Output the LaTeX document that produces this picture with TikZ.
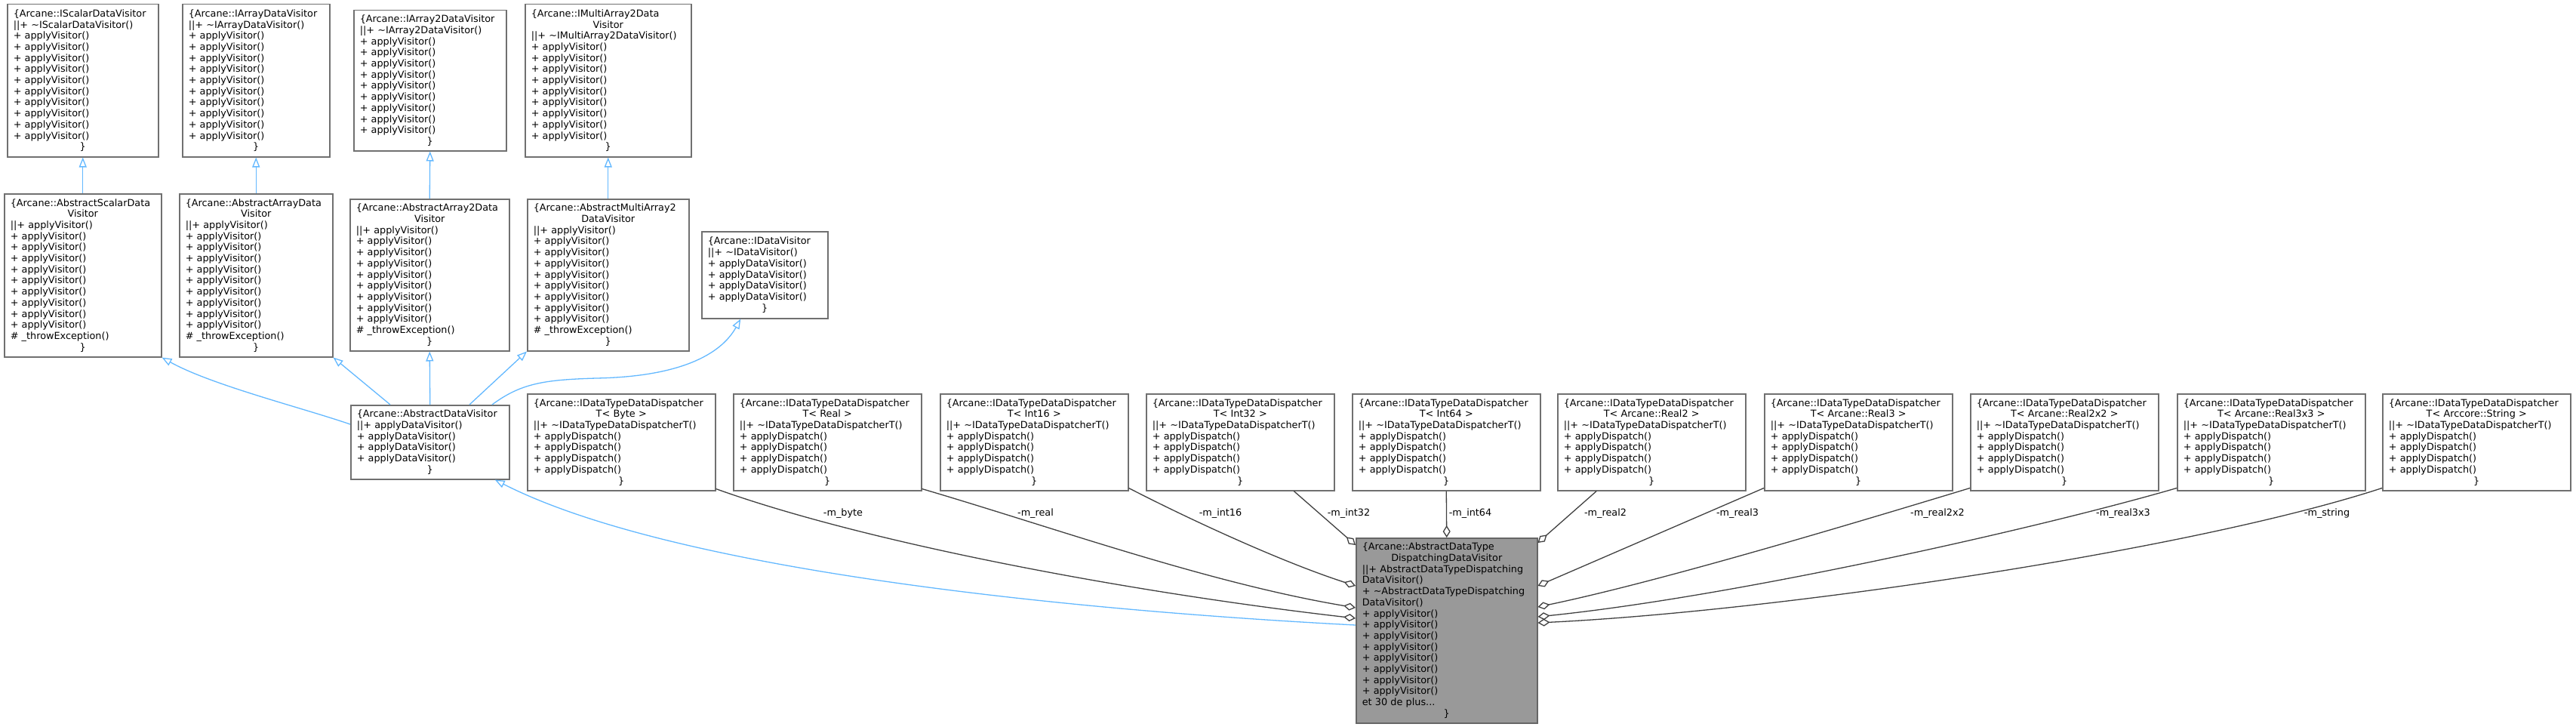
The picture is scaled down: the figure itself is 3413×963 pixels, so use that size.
\documentclass[tikz,border=0pt]{standalone}
\usepackage{fontspec}
\setmainfont{DejaVu Sans}
\usetikzlibrary{arrows.meta,calc}
\definecolor{nodeborder}{HTML}{707070}
\definecolor{mainfill}{HTML}{999999}
\definecolor{mainborder}{HTML}{666666}
\definecolor{inhblue}{HTML}{63B8FF}
\definecolor{aggr}{HTML}{404040}
\newcommand\cl[1]{\makebox[\hsize]{#1}}
\newcommand\av{+ applyVisitor()}
\newcommand\adv{+ applyDataVisitor()}
\newcommand\apd{+ applyDispatch()}
\newcommand\dispnode[3]{\node[cls, minimum width=249pt, minimum height=128pt, text width=233pt] (#1) at (#2,521) {\{Arcane::IDataTypeDataDispatcher\\ \cl{T< #3 >}\\ ||+ \textasciitilde IDataTypeDataDispatcherT()\\ \apd\\ \apd\\ \apd\\ \apd\\ \cl{\}}};}
\begin{document}
\begin{tikzpicture}[x=1pt,y=-1pt,
  every node/.style={font=\fontsize{12.8}{14.7}\selectfont},
  cls/.style={draw=nodeborder, fill=white, line width=1.5pt, inner xsep=8pt, inner ysep=0pt, anchor=north west, align=left},
  mainc/.style={cls, draw=mainborder, fill=mainfill},
  inh/.style={draw=inhblue, line width=1.3pt, -{Triangle[open, length=13pt, width=10pt]}},
  agg/.style={draw=aggr, line width=1.3pt, -{Diamond[open, length=16pt, width=10pt]}},
  lbl/.style={inner sep=0pt, anchor=center}
]
\useasboundingbox (0,0) rectangle (3413,963);

% top row
\node[cls, minimum width=200pt, minimum height=202pt, text width=184pt] (iscalar) at (9,5)
 {\{Arcane::IScalarDataVisitor\\ ||+ \textasciitilde IScalarDataVisitor()\\ \av\\ \av\\ \av\\ \av\\ \av\\ \av\\ \av\\ \av\\ \av\\ \av\\ \cl{\}}};
\node[cls, minimum width=195pt, minimum height=202pt, text width=179pt] (iarray) at (241,5)
 {\{Arcane::IArrayDataVisitor\\ ||+ \textasciitilde IArrayDataVisitor()\\ \av\\ \av\\ \av\\ \av\\ \av\\ \av\\ \av\\ \av\\ \av\\ \av\\ \cl{\}}};
\node[cls, minimum width=202pt, minimum height=186pt, text width=186pt] (iarray2) at (468,13)
 {\{Arcane::IArray2DataVisitor\\ ||+ \textasciitilde IArray2DataVisitor()\\ \av\\ \av\\ \av\\ \av\\ \av\\ \av\\ \av\\ \av\\ \av\\ \cl{\}}};
\node[cls, minimum width=220pt, minimum height=202pt, text width=204pt] (imulti) at (695,5)
 {\{Arcane::IMultiArray2Data\\ \cl{Visitor}\\ ||+ \textasciitilde IMultiArray2DataVisitor()\\ \av\\ \av\\ \av\\ \av\\ \av\\ \av\\ \av\\ \av\\ \av\\ \cl{\}}};

% second row
\node[cls, minimum width=208pt, minimum height=216pt, text width=192pt] (ascalar) at (5,256)
 {\{Arcane::AbstractScalarData\\ \cl{Visitor}\\ ||+ applyVisitor()\\ \av\\ \av\\ \av\\ \av\\ \av\\ \av\\ \av\\ \av\\ \av\\ \# \_throwException()\\ \cl{\}}};
\node[cls, minimum width=203pt, minimum height=216pt, text width=187pt] (aarray) at (237,256)
 {\{Arcane::AbstractArrayData\\ \cl{Visitor}\\ ||+ applyVisitor()\\ \av\\ \av\\ \av\\ \av\\ \av\\ \av\\ \av\\ \av\\ \av\\ \# \_throwException()\\ \cl{\}}};
\node[cls, minimum width=211pt, minimum height=201pt, text width=195pt] (aarray2) at (463,263)
 {\{Arcane::AbstractArray2Data\\ \cl{Visitor}\\ ||+ applyVisitor()\\ \av\\ \av\\ \av\\ \av\\ \av\\ \av\\ \av\\ \av\\ \# \_throwException()\\ \cl{\}}};
\node[cls, minimum width=214pt, minimum height=201pt, text width=198pt] (amulti) at (698,263)
 {\{Arcane::AbstractMultiArray2\\ \cl{DataVisitor}\\ ||+ applyVisitor()\\ \av\\ \av\\ \av\\ \av\\ \av\\ \av\\ \av\\ \av\\ \# \_throwException()\\ \cl{\}}};
\node[cls, minimum width=167pt, minimum height=115pt, text width=151pt] (idv) at (929,306)
 {\{Arcane::IDataVisitor\\ ||+ \textasciitilde IDataVisitor()\\ \adv\\ \adv\\ \adv\\ \adv\\ \cl{\}}};

% third row
\node[cls, minimum width=210pt, minimum height=98pt, text width=194pt] (adv) at (464,536)
 {\{Arcane::AbstractDataVisitor\\ ||+ applyDataVisitor()\\ \adv\\ \adv\\ \adv\\ \cl{\}}};
\dispnode{dbyte}{698}{Byte}
\dispnode{dreal}{971}{Real}
\dispnode{dint16}{1245}{Int16}
\dispnode{dint32}{1518}{Int32}
\dispnode{dint64}{1791}{Int64}
\dispnode{dreal2}{2063}{Arcane::Real2}
\dispnode{dreal3}{2337}{Arcane::Real3}
\dispnode{dreal2x2}{2610}{Arcane::Real2x2}
\dispnode{dreal3x3}{2884}{Arcane::Real3x3}
\dispnode{dstring}{3156}{Arccore::String}

% main node
\node[mainc, minimum width=240pt, minimum height=245pt, text width=224pt] (main) at (1796,712)
 {\{Arcane::AbstractDataType\\ \cl{DispatchingDataVisitor}\\ ||+ AbstractDataTypeDispatching\\ DataVisitor()\\ + \textasciitilde AbstractDataTypeDispatching\\ DataVisitor()\\ \av\\ \av\\ \av\\ \av\\ \av\\ \av\\ \av\\ \av\\ et 30 de plus...\\ \cl{\}}};

% inheritance
\draw[inh] (ascalar.north) -- (iscalar.south);
\draw[inh] (aarray.north) -- (iarray.south);
\draw[inh] (aarray2.north) -- (iarray2.south);
\draw[inh] (amulti.north) -- (imulti.south);
\draw[inh] ([yshift=-26pt]adv.north west) .. controls (400,540) and (280,510) .. (ascalar.south east);
\draw[inh] ([xshift=53pt]adv.north west) -- (aarray.south east);
\draw[inh] (adv.north) -- (aarray2.south);
\draw[inh] ([xshift=158pt]adv.north west) -- (amulti.south west);
\draw[inh] ([xshift=188pt]adv.north west) .. controls (690,508) and (720,503) .. (790,501) .. controls (900,499) and (955,470) .. ([xshift=-32pt]idv.south);
\draw[inh] ([yshift=-116pt]main.north west) .. controls (1450,810) and (900,760) .. ([xshift=86pt]adv.south);

% aggregation
\draw[agg] ([yshift=3pt]dbyte.south east) .. controls (1150,720) and (1500,785) .. ([yshift=-107pt]main.north west);
\draw[agg] ([yshift=3pt]dreal.south east) .. controls (1400,700) and (1600,772) .. ([yshift=-93pt]main.north west);
\draw[agg] ([yshift=4pt]dint16.south east) .. controls (1580,690) and (1700,745) .. ([yshift=-64pt]main.north west);
\draw[agg] ([xshift=71pt]dint32.south) -- ([yshift=-10pt]main.north west);
\draw[agg] (dint64.south) -- (main.north);
\draw[agg] ([xshift=-73pt]dreal2.south) -- ([yshift=-7pt]main.north east);
\draw[agg] ([yshift=4pt]dreal3.south west) -- ([yshift=-64pt]main.north east);
\draw[agg] ([yshift=4pt]dreal2x2.south west) .. controls (2450,695) and (2200,770) .. ([yshift=-92pt]main.north east);
\draw[agg] ([yshift=4pt]dreal3x3.south west) .. controls (2700,700) and (2300,790) .. ([yshift=-105pt]main.north east);
\draw[agg] ([yshift=4pt]dstring.south west) .. controls (2900,730) and (2350,810) .. ([yshift=-113pt]main.north east);

% labels
\node[lbl] (lbyte) at (1117,680) {-m\_byte};
\node[lbl] (lreal) at (1372,680) {-m\_real};
\node[lbl] (lint16) at (1617,680) {-m\_int16};
\node[lbl] (lint32) at (1787,680) {-m\_int32};
\node[lbl] (lint64) at (1948,680) {-m\_int64};
\node[lbl] (lreal2) at (2127,680) {-m\_real2};
\node[lbl] (lreal3) at (2302,680) {-m\_real3};
\node[lbl] (lreal2x2) at (2567,680) {-m\_real2x2};
\node[lbl] (lreal3x3) at (2813,680) {-m\_real3x3};
\node[lbl] (lstring) at (3083,680) {-m\_string};
\end{tikzpicture}
\end{document}
